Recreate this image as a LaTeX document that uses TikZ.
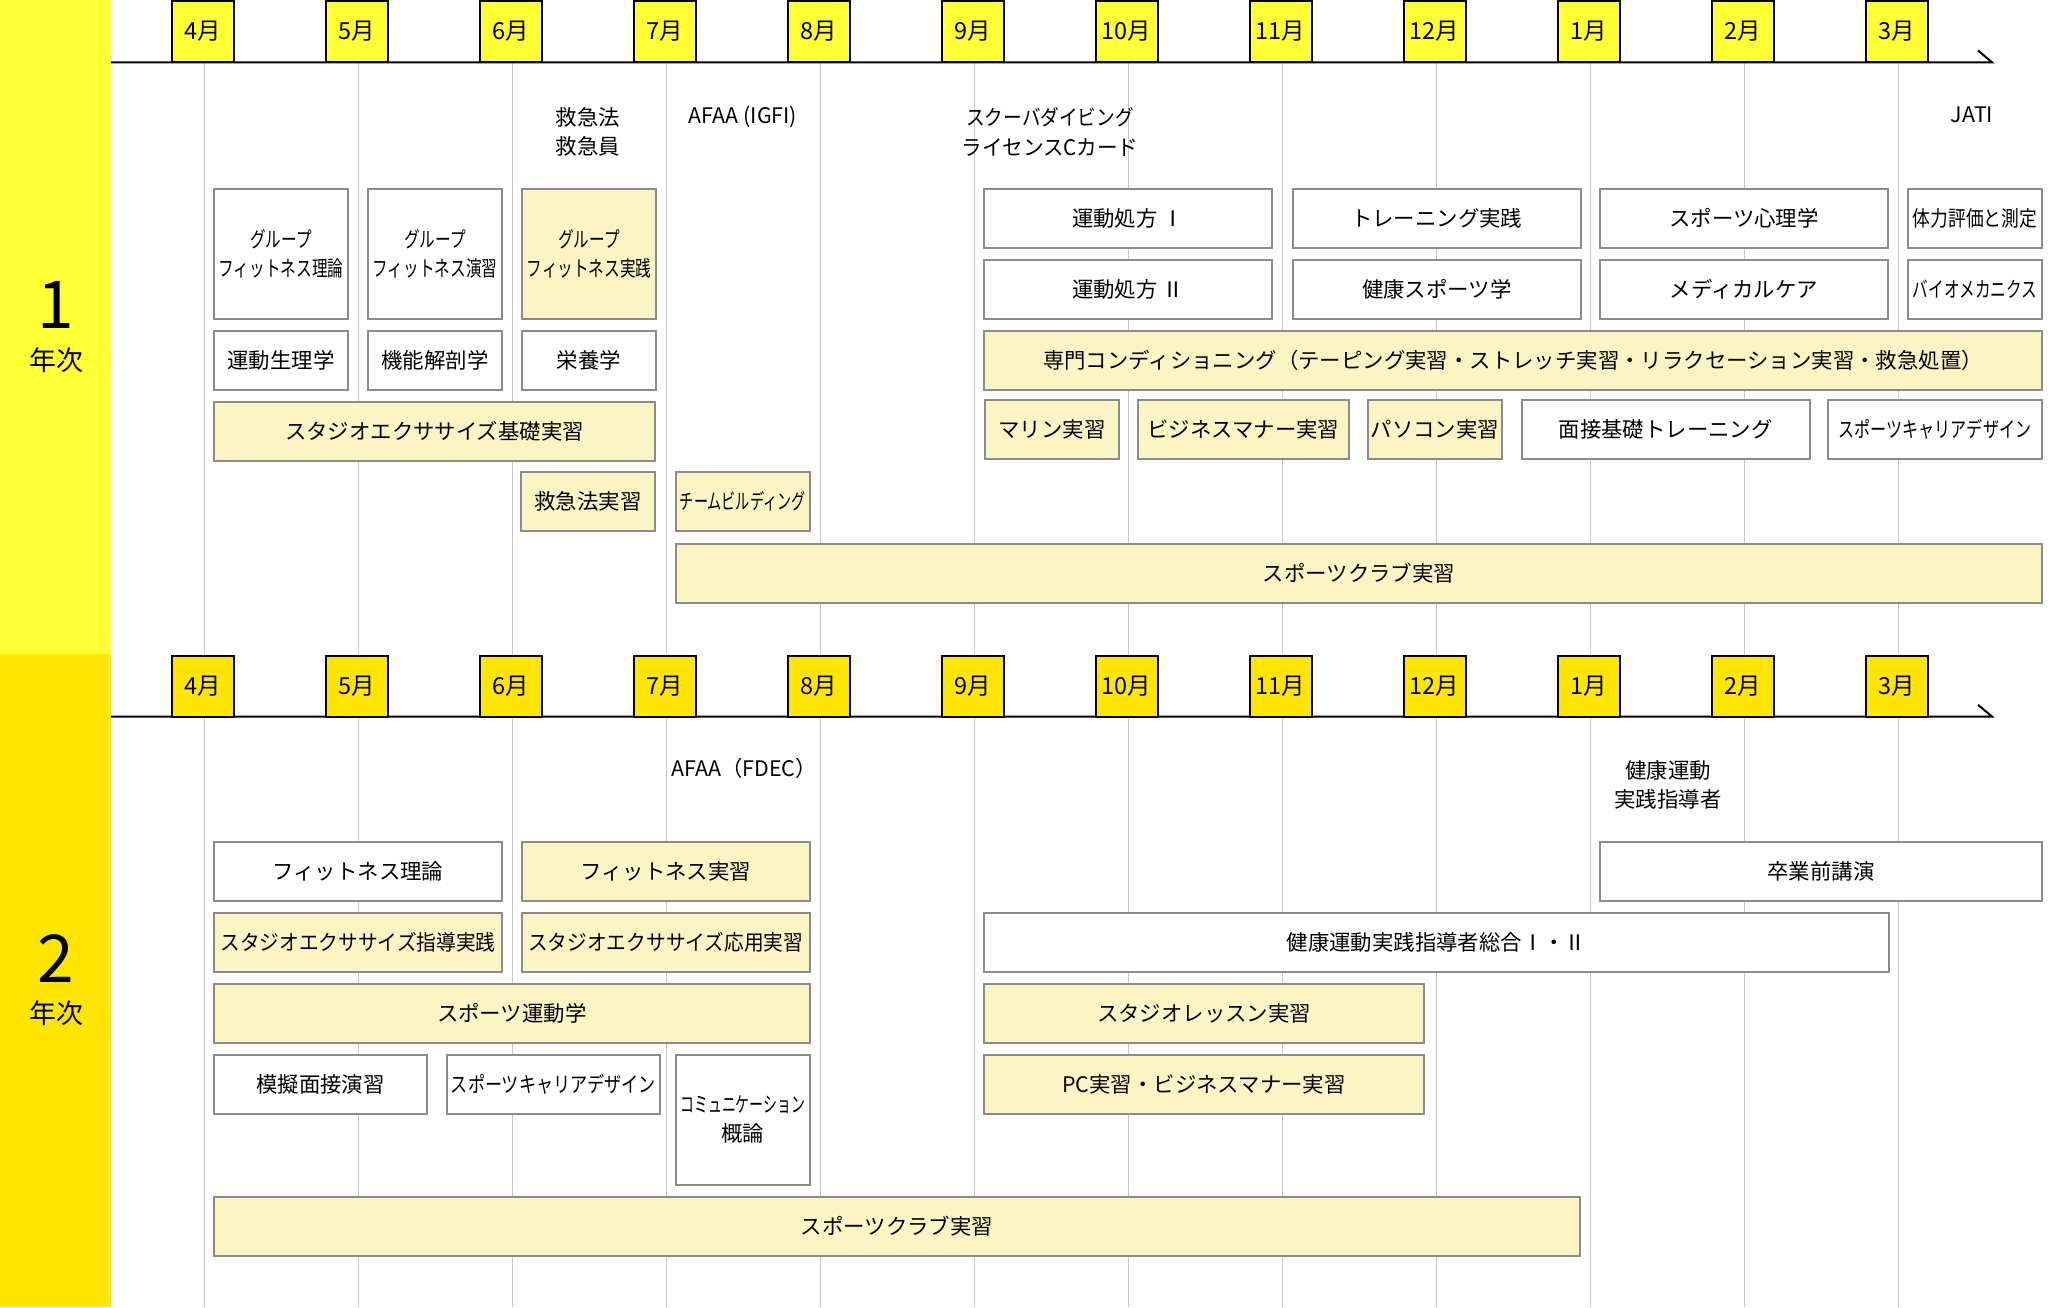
\documentclass[tikz,border=0pt]{standalone}
\usepackage{fontspec}
\setmainfont{Noto Sans CJK JP}
\usepackage{graphicx}
\usepackage{tikz}

\definecolor{sideone}{HTML}{FFFF33}
\definecolor{sidetwo}{HTML}{FFE600}
\definecolor{cellfill}{HTML}{FBF5C4}
\definecolor{cellline}{HTML}{8C8C8C}
\definecolor{gridline}{HTML}{C8C8C8}

\tikzset{
	cell/.style={draw=cellline, line width=2pt, inner sep=0pt, align=center,
		font=\fontsize{21.4}{29.5}\selectfont},
	wcell/.style={cell, fill=white},
	ycell/.style={cell, fill=cellfill},
	monthbox/.style={draw=black, line width=2pt, inner sep=0pt,
		minimum width=62pt, minimum height=61pt, font=\fontsize{23.5}{26}\selectfont},
	note/.style={align=center, inner sep=0pt, font=\fontsize{21.4}{29.5}\selectfont},
}
\newcommand{\nar}[2]{\scalebox{#1}[1]{#2}}

\begin{document}
\begin{tikzpicture}[x=1pt, y=-1pt]
		\useasboundingbox (0,0) rectangle (2072,1307);
		\foreach \k in {0,...,11}
			\draw[gridline, line width=1.2pt] (204.5+154*\k,62) -- ++(0,1245);
		\fill[sideone] (0,0) rectangle (111,654);
		\fill[sidetwo] (0,654) rectangle (111,1307);
		\node[inner sep=0pt, font=\fontsize{66}{66}\selectfont] (yrone) at (56,305) {1};
		\node[inner sep=0pt, font=\fontsize{27}{27}\selectfont] (yronelbl) at (56,360) {年次};
		\node[inner sep=0pt, font=\fontsize{66}{66}\selectfont] (yrtwo) at (56,959) {2};
		\node[inner sep=0pt, font=\fontsize{27}{27}\selectfont] (yrtwolbl) at (56,1013.5) {年次};
		\draw[line width=2pt] (111,62.3) -- (1992,62.3) -- (1978,50.5);
		\draw[line width=2pt] (111,716.6) -- (1992,716.6) -- (1978,704.8);
		\foreach \m [count=\k from 0] in {4,5,6,7,8,9,10,11,12,1,2,3} {
			\node[monthbox, fill=sideone] (ma\m) at (202.5+154*\k,31.7) {\m 月};
			\node[monthbox, fill=sidetwo] (mb\m) at (202.5+154*\k,686) {\m 月};
		}

		\node[note] (qualfirst) at (588,132) {救急法\\救急員};
		\node[note] (qualigfi) at (743,117) {AFAA (IGFI)};
		\node[note] (qualscuba) at (1050,132) {\nar{.87}{スクーバダイビング}\\\nar{.96}{ライセンスCカード}};
		\node[note] (qualjati) at (1972,115) {JATI};

		\node[wcell, minimum width=134pt, minimum height=130pt] (grpth) at (281,254) {\nar{.73}{グループ}\\\nar{.73}{フィットネス理論}};
		\node[wcell, minimum width=134pt, minimum height=130pt] (grpen) at (435,254) {\nar{.73}{グループ}\\\nar{.73}{フィットネス演習}};
		\node[ycell, minimum width=134pt, minimum height=130pt] (grpjs) at (589,254) {\nar{.73}{グループ}\\\nar{.73}{フィットネス実践}};
		\node[wcell, minimum width=134pt, minimum height=59pt] (seiri) at (281,360.5) {運動生理学};
		\node[wcell, minimum width=134pt, minimum height=59pt] (kaibo) at (435,360.5) {機能解剖学};
		\node[wcell, minimum width=134pt, minimum height=59pt] (eiyo) at (589,360.5) {栄養学};
		\node[ycell, minimum width=441pt, minimum height=59pt] (studiokiso) at (434.5,431) {スタジオエクササイズ基礎実習};
		\node[ycell, minimum width=134pt, minimum height=59pt] (kyukyu) at (588,501.5) {救急法実習};
		\node[ycell, minimum width=133.5pt, minimum height=59pt] (team) at (742.75,501.5) {\nar{.66}{チームビルディング}};
		\node[ycell, minimum width=1366pt, minimum height=59pt] (clubone) at (1359,573) {スポーツクラブ実習};

		\node[wcell, minimum width=288pt, minimum height=59pt] (shohoone) at (1128,218.5) {運動処方 Ⅰ};
		\node[wcell, minimum width=288pt, minimum height=59pt] (shohotwo) at (1128,289.5) {運動処方 Ⅱ};
		\node[wcell, minimum width=288.5pt, minimum height=59pt] (training) at (1436.75,218.5) {トレーニング実践};
		\node[wcell, minimum width=288.5pt, minimum height=59pt] (kenko) at (1436.75,289.5) {健康スポーツ学};
		\node[wcell, minimum width=288pt, minimum height=59pt] (shinri) at (1744,218.5) {スポーツ心理学};
		\node[wcell, minimum width=288pt, minimum height=59pt] (medical) at (1744,289.5) {メディカルケア};
		\node[wcell, minimum width=134pt, minimum height=59pt] (tairyoku) at (1975,218.5) {\nar{.83}{体力評価と測定}};
		\node[wcell, minimum width=134pt, minimum height=59pt] (bio) at (1975,289.5) {\nar{.73}{バイオメカニクス}};
		\node[ycell, minimum width=1058pt, minimum height=59pt] (senmon) at (1513,360.5) {専門コンディショニング（テーピング実習・ストレッチ実習・リラクセーション実習・救急処置）};
		\node[ycell, minimum width=134pt, minimum height=59pt] (marine) at (1052,429.5) {マリン実習};
		\node[ycell, minimum width=211.5pt, minimum height=59pt] (bizone) at (1243.3,429.5) {ビジネスマナー実習};
		\node[ycell, minimum width=134.3pt, minimum height=59pt] (pcone) at (1434.85,429.5) {パソコン実習};
		\node[wcell, minimum width=287.5pt, minimum height=59pt] (mensetsu) at (1665.75,429.5) {面接基礎トレーニング};
		\node[wcell, minimum width=214pt, minimum height=59pt] (careerone) at (1935,429.5) {\nar{.75}{スポーツキャリアデザイン}};

		\node[note] (qualfdec) at (744,768) {AFAA（FDEC）};
		\node[note] (qualkenko) at (1668,785) {健康運動\\実践指導者};

		\node[wcell, minimum width=288pt, minimum height=59pt] (fitth) at (358,871.5) {フィットネス理論};
		\node[ycell, minimum width=287.5pt, minimum height=59pt] (fitjs) at (665.75,871.5) {フィットネス実習};
		\node[wcell, minimum width=442pt, minimum height=59pt] (sotsu) at (1821,871.5) {卒業前講演};
		\node[ycell, minimum width=288pt, minimum height=59pt] (shido) at (358,942) {\nar{.92}{スタジオエクササイズ指導実践}};
		\node[ycell, minimum width=287.5pt, minimum height=59pt] (oyo) at (665.75,942) {\nar{.92}{スタジオエクササイズ応用実習}};
		\node[wcell, minimum width=905pt, minimum height=59pt] (sogo) at (1436.5,942) {健康運動実践指導者総合Ⅰ・Ⅱ};
		\node[ycell, minimum width=595.5pt, minimum height=59pt] (undogaku) at (511.75,1013) {スポーツ運動学};
		\node[ycell, minimum width=440pt, minimum height=59pt] (lesson) at (1204,1013) {スタジオレッスン実習};
		\node[wcell, minimum width=213pt, minimum height=59pt] (mogi) at (320.5,1084) {模擬面接演習};
		\node[wcell, minimum width=213pt, minimum height=59pt] (careertwo) at (553.5,1084) {\nar{.8}{スポーツキャリアデザイン}};
		\node[wcell, minimum width=133.5pt, minimum height=130pt] (comm) at (742.75,1119.5) {\nar{.65}{コミュニケーション}\\概論};
		\node[ycell, minimum width=440pt, minimum height=59pt] (biztwo) at (1204,1084) {PC実習・ビジネスマナー実習};
		\node[ycell, minimum width=1366pt, minimum height=59pt] (clubtwo) at (897,1226) {スポーツクラブ実習};
	\end{tikzpicture}
\end{document}
